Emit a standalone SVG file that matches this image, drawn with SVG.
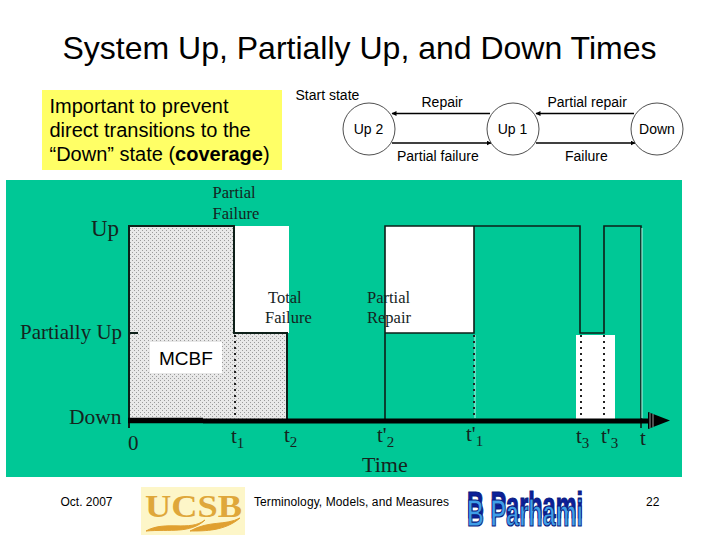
<svg xmlns="http://www.w3.org/2000/svg" width="720" height="540" viewBox="0 0 720 540">
<style>
.s{font-family:"Liberation Sans",Arial,sans-serif;fill:#000}
.t{font-family:"Liberation Serif","Times New Roman",serif;fill:#15241e}
.n{fill:#fff;stroke:#222;stroke-width:.8}
.c{fill:none;stroke:#000;stroke-width:1.6;marker-end:url(#a)}
.w{fill:none;stroke:#0d1f18;stroke-width:2}
.l{fill:none;stroke:#0d1f18;stroke-width:1.6}
.d{fill:none;stroke:#222;stroke-width:2;stroke-dasharray:2 4}
</style>
<defs>
<marker id="a" markerWidth="6" markerHeight="6" refX="4.5" refY="2.5" orient="auto" markerUnits="userSpaceOnUse"><path d="M0 0L5 2.5L0 5z" fill="#000"/></marker>
<pattern id="h" width="4" height="4" patternUnits="userSpaceOnUse"><rect width="4" height="4" fill="#e8e8e8"/><rect width="1" height="1" fill="#9a9a9a"/><rect x="2" y="2" width="1" height="1" fill="#9a9a9a"/></pattern>
</defs>
<rect width="720" height="540" fill="#fff"/>
<text class="s" x="359.5" y="59" font-size="32" text-anchor="middle">System Up, Partially Up, and Down Times</text>
<rect x="42" y="90" width="240" height="80" fill="#ffff66"/>
<g class="s" font-size="20"><text x="49.500" y="113">Important to prevent</text><text x="49.500" y="137">direct transitions to the</text><text x="49.500" y="161">“Down” state (<tspan font-weight="bold">coverage</tspan>)</text></g>
<rect x="6" y="180" width="676" height="297" fill="#00c896"/>
<g id="chart">
<rect x="129" y="226" width="105" height="194" fill="url(#h)"/>
<rect x="234" y="333" width="53" height="87" fill="url(#h)"/>
<rect x="234" y="226" width="55" height="107" fill="#fff"/>
<rect x="385" y="226" width="89" height="107" fill="#fff"/>
<rect x="576" y="335" width="39" height="85" fill="#fff"/>
<rect x="150" y="342" width="72" height="31" fill="#fff"/>
<path class="w" d="M129 428V226H234V333H287V420"/>
<path class="l" d="M385 420V226H580V333H604V226H641V428"/>
<path class="l" d="M385 333H474V226"/>
<path class="w" d="M129 333H138"/>
<path d="M475 335V418M642 228V418" stroke="#b8f5e6" stroke-width="1" fill="none"/>
<path class="d" d="M235 335V420M474 335V420M581 335V420M604 335V420"/>
<path d="M128 420.500H203" stroke="#000" stroke-width="5.500"/>
<path d="M203 421H650" stroke="#000" stroke-width="5"/>
<path d="M648 412L670 420.500L648 429z" fill="#000"/>
<path d="M650 413V428M653 414V427" stroke="#9a9a9a" stroke-width="1" fill="none"/>
<g class="t" font-size="21">
<text x="91" y="236" font-size="23">Up</text>
<text x="20" y="339" font-size="21">Partially Up</text>
<text x="69" y="424" font-size="21.500">Down</text>
<text x="128" y="450">0</text>
<text x="231" y="443">t<tspan font-size="15" dy="5">1</tspan></text>
<text x="284" y="442">t<tspan font-size="15" dy="5">2</tspan></text>
<text x="377" y="442">t'<tspan font-size="15" dy="5">2</tspan></text>
<text x="466" y="441">t'<tspan font-size="15" dy="5">1</tspan></text>
<text x="576" y="443">t<tspan font-size="15" dy="5">3</tspan></text>
<text x="601" y="443">t'<tspan font-size="15" dy="5">3</tspan></text>
<text x="640" y="445">t</text>
<text x="362" y="472" font-size="22">Time</text>
</g>
<g class="t" font-size="16.500">
<text x="212.500" y="198">Partial</text><text x="212.500" y="219">Failure</text>
<text x="268" y="303">Total</text><text x="265" y="323">Failure</text>
<text x="367" y="303">Partial</text><text x="367" y="323">Repair</text>
</g>
<text class="s" x="159" y="365" font-size="19">MCBF</text>
</g>
<g id="connectors">
<path class="c" d="M490 113.500H392"/>
<path class="c" d="M392 143H491"/>
<path class="c" d="M634 113.500H536"/>
<path class="c" d="M536 143H635"/>
</g>
<g id="up2"><circle class="n" cx="369" cy="129" r="26"/><text class="s" x="368.500" y="134" font-size="14" text-anchor="middle">Up 2</text></g>
<g id="up1"><circle class="n" cx="513" cy="129" r="26"/><text class="s" x="512.500" y="134" font-size="14" text-anchor="middle">Up 1</text></g>
<g id="down"><circle class="n" cx="657" cy="129" r="26"/><text class="s" x="657" y="134" font-size="14" text-anchor="middle">Down</text></g>
<g class="s" font-size="14">
<text x="295.500" y="100">Start state</text>
<text x="421.500" y="107">Repair</text>
<text x="547.500" y="107">Partial repair</text>
<text x="397" y="161">Partial failure</text>
<text x="565" y="161">Failure</text>
</g>
<g class="s" font-size="12">
<text x="60.500" y="506">Oct. 2007</text>
<text x="254" y="506" textLength="195">Terminology, Models, and Measures</text>
<text x="646" y="506">22</text>
</g>
<g id="ucsb">
<rect x="141" y="487" width="104" height="48" fill="#fdf6c8"/>
<text x="145" y="517" font-family="Liberation Serif,serif" font-weight="bold" font-size="32" fill="#dfa73a" textLength="97" lengthAdjust="spacingAndGlyphs">UCSB</text>
<path d="M146 531C165 520 190 532 205 520C190 534 170 529 146 531ZM190 531C210 520 225 526 240 518C225 531 205 531 190 531Z" fill="#e0a030" stroke="#e0a030"/>
</g>
<g id="parhami">
<use href="#bp" y="-8" fill="#0c1f9a" stroke="#0c1f9a"/>
<g fill="#3f9fe8"><text id="bp" transform="translate(467 526) scale(.634 1)" font-family="Liberation Sans,sans-serif" font-weight="bold" font-size="37" stroke="#0a1a80" stroke-width="1.200">B Parhami</text></g>
</g>
</svg>
